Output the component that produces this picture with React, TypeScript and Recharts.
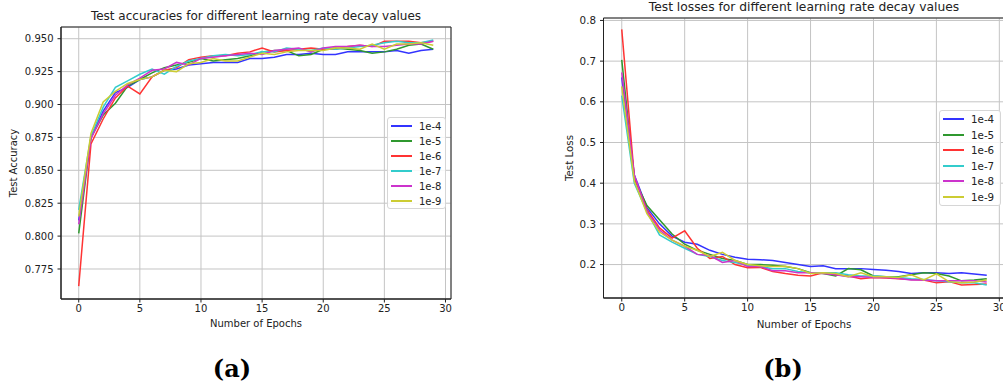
import React from 'react';
import { LineChart, Line, XAxis, YAxis, CartesianGrid, ReferenceArea } from 'recharts';

const epochs = [0, 1, 2, 3, 4, 5, 6, 7, 8, 9, 10, 11, 12, 13, 14, 15, 16, 17, 18, 19, 20, 21, 22, 23, 24, 25, 26, 27, 28, 29];
const decayLabels = ['1e-4', '1e-5', '1e-6', '1e-7', '1e-8', '1e-9'];

// test accuracy per decay value
const acc1e4 = [0.812, 0.875, 0.895, 0.909, 0.913, 0.919, 0.921, 0.926, 0.927, 0.930, 0.931, 0.932, 0.932, 0.932, 0.935, 0.935, 0.936, 0.938, 0.938, 0.939, 0.938, 0.938, 0.940, 0.940, 0.940, 0.940, 0.941, 0.939, 0.941, 0.942];
const acc1e5 = [0.802, 0.875, 0.892, 0.901, 0.914, 0.919, 0.924, 0.928, 0.930, 0.932, 0.935, 0.933, 0.934, 0.935, 0.937, 0.940, 0.941, 0.941, 0.937, 0.938, 0.942, 0.943, 0.942, 0.941, 0.939, 0.940, 0.942, 0.945, 0.946, 0.942];
const acc1e6 = [0.762, 0.870, 0.889, 0.905, 0.914, 0.908, 0.921, 0.926, 0.928, 0.934, 0.936, 0.937, 0.937, 0.939, 0.940, 0.943, 0.940, 0.941, 0.942, 0.943, 0.942, 0.942, 0.944, 0.945, 0.944, 0.948, 0.948, 0.948, 0.947, 0.948];
const acc1e7 = [0.820, 0.876, 0.898, 0.913, 0.918, 0.923, 0.927, 0.923, 0.929, 0.933, 0.935, 0.937, 0.938, 0.937, 0.938, 0.940, 0.940, 0.943, 0.942, 0.941, 0.943, 0.942, 0.943, 0.944, 0.945, 0.947, 0.948, 0.947, 0.947, 0.949];
const acc1e8 = [0.809, 0.874, 0.893, 0.907, 0.915, 0.920, 0.926, 0.927, 0.932, 0.930, 0.935, 0.936, 0.937, 0.938, 0.939, 0.938, 0.941, 0.942, 0.943, 0.940, 0.943, 0.944, 0.944, 0.945, 0.944, 0.944, 0.945, 0.946, 0.946, 0.948];
const acc1e9 = [0.815, 0.878, 0.902, 0.910, 0.916, 0.919, 0.921, 0.926, 0.925, 0.931, 0.932, 0.935, 0.933, 0.933, 0.936, 0.939, 0.938, 0.940, 0.941, 0.941, 0.941, 0.943, 0.943, 0.942, 0.946, 0.942, 0.946, 0.946, 0.947, 0.945];

// test loss per decay value
const loss1e4 = [0.660, 0.420, 0.340, 0.300, 0.270, 0.255, 0.250, 0.235, 0.225, 0.218, 0.213, 0.212, 0.210, 0.205, 0.200, 0.195, 0.197, 0.190, 0.190, 0.190, 0.188, 0.186, 0.183, 0.178, 0.180, 0.180, 0.178, 0.180, 0.177, 0.174];
const loss1e5 = [0.703, 0.410, 0.345, 0.310, 0.275, 0.250, 0.235, 0.225, 0.215, 0.210, 0.200, 0.200, 0.198, 0.195, 0.190, 0.180, 0.178, 0.172, 0.190, 0.187, 0.172, 0.170, 0.170, 0.175, 0.180, 0.178, 0.172, 0.160, 0.162, 0.165];
const loss1e6 = [0.778, 0.415, 0.335, 0.290, 0.265, 0.283, 0.240, 0.215, 0.220, 0.200, 0.192, 0.193, 0.183, 0.178, 0.174, 0.172, 0.180, 0.175, 0.172, 0.165, 0.168, 0.167, 0.165, 0.163, 0.162, 0.155, 0.158, 0.150, 0.151, 0.152];
const loss1e7 = [0.615, 0.400, 0.330, 0.273, 0.255, 0.240, 0.225, 0.220, 0.210, 0.205, 0.198, 0.195, 0.190, 0.190, 0.183, 0.180, 0.180, 0.180, 0.175, 0.172, 0.172, 0.170, 0.168, 0.165, 0.163, 0.160, 0.158, 0.155, 0.155, 0.150];
const loss1e8 = [0.672, 0.420, 0.330, 0.285, 0.260, 0.245, 0.225, 0.222, 0.205, 0.210, 0.195, 0.195, 0.185, 0.185, 0.180, 0.180, 0.178, 0.175, 0.170, 0.170, 0.168, 0.168, 0.166, 0.162, 0.162, 0.160, 0.160, 0.160, 0.160, 0.157];
const loss1e9 = [0.638, 0.405, 0.325, 0.280, 0.260, 0.245, 0.235, 0.220, 0.230, 0.210, 0.200, 0.197, 0.195, 0.196, 0.190, 0.178, 0.180, 0.178, 0.170, 0.180, 0.170, 0.170, 0.168, 0.175, 0.162, 0.177, 0.158, 0.155, 0.157, 0.162];

const accTicks = [0.775, 0.8, 0.825, 0.85, 0.875, 0.9, 0.925, 0.95];
const lossTicks = [0.2, 0.3, 0.4, 0.5, 0.6, 0.7, 0.8];
const epochTicks = [0, 5, 10, 15, 20, 25, 30];

const colors = ['#3333ff', '#2f982f', '#ff3333', '#33cccc', '#cc33cc', '#cccc33'];
const FONT = 'DejaVu Sans, sans-serif';
const X_DOMAIN: [number, number] = [-1.45, 30.45];

const accData = epochs.map((e, i) => ({
  epoch: e, s0: acc1e4[i], s1: acc1e5[i], s2: acc1e6[i], s3: acc1e7[i], s4: acc1e8[i], s5: acc1e9[i],
}));
const lossData = epochs.map((e, i) => ({
  epoch: e, s0: loss1e4[i], s1: loss1e5[i], s2: loss1e6[i], s3: loss1e7[i], s4: loss1e8[i], s5: loss1e9[i],
}));

type PanelProps = {
  data: any[];
  left: number;
  width: number;
  right: number;
  top: number;
  bottom: number;
  yWidth: number;
  yDomain: [number, number];
  yTicks: number[];
  digits: number;
  fontSize: number;
};

const Panel = ({ data, left, width, right, top, bottom, yWidth, yDomain, yTicks, digits, fontSize }: PanelProps) => (
  <div style={{ position: 'absolute', left, top: 0 }}>
    <LineChart width={width} height={340} data={data} margin={{ top, right, bottom: 0, left: 0 }}>
      <CartesianGrid stroke="#c4c4c4" strokeWidth={1} horizontal vertical />
      <XAxis
        dataKey="epoch"
        type="number"
        domain={X_DOMAIN}
        ticks={epochTicks}
        allowDataOverflow
        height={340 - bottom}
        tickSize={3.5}
        tickMargin={2}
        stroke="#222"
        tick={{ fill: '#222', fontSize, fontFamily: FONT }}
      />
      <YAxis
        type="number"
        domain={yDomain}
        ticks={yTicks}
        allowDataOverflow
        width={yWidth}
        tickSize={3.5}
        tickMargin={4}
        stroke="#222"
        tickFormatter={(v: number) => v.toFixed(digits)}
        tick={{ fill: '#222', fontSize, fontFamily: FONT }}
      />
      {decayLabels.map((_, k) => (
        <Line
          key={k}
          dataKey={`s${k}`}
          stroke={colors[k]}
          strokeWidth={1.5}
          dot={false}
          type="linear"
          isAnimationActive={false}
        />
      ))}
      {/* axes frame */}
      <ReferenceArea x1={X_DOMAIN[0]} x2={X_DOMAIN[1]} y1={yDomain[0]} y2={yDomain[1]}
        fill="none" fillOpacity={0} stroke="#222" strokeWidth={1} ifOverflow="visible" />
    </LineChart>
  </div>
);

const Legend = ({ left, top, width, height, rowGap, fontSize }: { left: number; top: number; width: number; height: number; rowGap: number; fontSize: number }) => (
  <div
    style={{
      position: 'absolute', left, top, width, height, boxSizing: 'border-box',
      background: 'rgba(255,255,255,0.85)', border: '1px solid #d6d6d6', borderRadius: 3,
      fontFamily: FONT, fontSize, color: '#222',
    }}
  >
    {decayLabels.map((lab, k) => (
      <div key={lab} style={{ position: 'absolute', left: 3, top: 8 + k * rowGap - 7, height: 14, display: 'flex', alignItems: 'center' }}>
        <span style={{ display: 'inline-block', width: 21, height: 2, background: colors[k], marginRight: 7 }} />
        <span>{lab}</span>
      </div>
    ))}
  </div>
);

const text = (s: string, x: number, y: number, size: number, extra: React.CSSProperties = {}) => (
  <div
    style={{
      position: 'absolute', left: x, top: y, transform: 'translate(-50%, -50%)', whiteSpace: 'nowrap',
      fontFamily: FONT, fontSize: size, color: '#222', lineHeight: 1, ...extra,
    }}
  >
    {s}
  </div>
);

const capStyle: React.CSSProperties = { fontFamily: 'DejaVu Serif, serif', fontWeight: 'bold', color: '#000' };

export default function App() {
  return (
    <div style={{ position: 'absolute', left: 0, top: 0, width: 1003, height: 391, overflow: 'hidden', background: '#fff' }}>
      <Panel data={accData} left={0} width={454} right={3} top={27} bottom={299} yWidth={61}
        yDomain={[0.7522, 0.9589]} yTicks={accTicks} digits={3} fontSize={10} />
      <Panel data={lossData} left={540} width={468} right={3} top={18} bottom={298} yWidth={63.5}
        yDomain={[0.1178, 0.806]} yTicks={lossTicks} digits={1} fontSize={10.3} />

      {text('Test accuracies for different learning rate decay values', 256, 16, 12)}
      {text('Test losses for different learning rate decay values', 804, 7, 12.3)}
      {text('Number of Epochs', 256, 324, 10)}
      {text('Number of Epochs', 804, 324, 10.3)}
      {text('Test Accuracy', 14, 163, 10, { transform: 'translate(-50%, -50%) rotate(-90deg)' })}
      {text('Test Loss', 569, 158, 10.3, { transform: 'translate(-50%, -50%) rotate(-90deg)' })}

      <Legend left={387} top={117} width={59} height={92} rowGap={15} fontSize={10} />
      <Legend left={939} top={110} width={62} height={96} rowGap={15.5} fontSize={10.3} />

      {text('(a)', 232, 369, 24, capStyle)}
      {text('(b)', 783, 369, 24, capStyle)}
    </div>
  );
}
